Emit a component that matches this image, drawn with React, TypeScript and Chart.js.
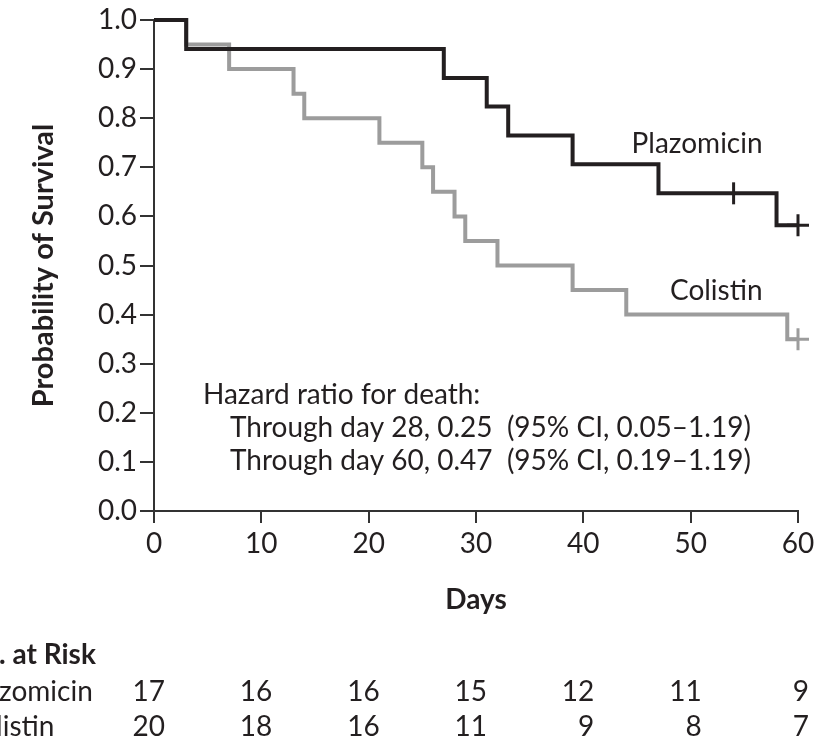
import React, { useEffect, useRef } from 'react';
import { Chart, registerables } from 'chart.js';

Chart.register(...registerables);

// ---- data ----
const plazomicinDays = [0, 3, 27, 31, 33, 39, 47, 58, 60];
const plazomicinSurvival = [1.0, 0.941, 0.882, 0.824, 0.765, 0.706, 0.647, 0.582, 0.582];
const colistinDays = [0, 3, 7, 13, 14, 21, 25, 26, 28, 29, 32, 39, 44, 59, 60];
const colistinSurvival = [1.0, 0.95, 0.9, 0.85, 0.8, 0.75, 0.7, 0.65, 0.6, 0.55, 0.5, 0.45, 0.4, 0.35, 0.35];
const plazomicinCensorDays = [54, 60];
const plazomicinCensorSurvival = [0.647, 0.582];
const colistinCensorDays = [60];
const colistinCensorSurvival = [0.35];
const riskDays = [0, 10, 20, 30, 40, 50, 60];
const plazomicinAtRisk = [17, 16, 16, 15, 12, 11, 9];
const colistinAtRisk = [20, 18, 16, 11, 9, 8, 7];
const groupNames = ['Plazomicin', 'Colistin'];
const hazardLines = [
  'Hazard ratio for death:',
  'Through day 28, 0.25  (95% CI, 0.05\u20131.19)',
  'Through day 60, 0.47  (95% CI, 0.19\u20131.19)',
];
const riskTitle = 'No. at Risk';
const xTitle = 'Days';
const yTitle = 'Probability of Survival';

const INK = '#231f20';
const GREY = '#9c9c9c';
const AXIS = '#333333';
const FONT = 'Lato';
const FS = 28;

const toPoints = (xs: number[], ys: number[]) => xs.map((x, i) => ({ x, y: ys[i] }));

const textPlugin = {
  id: 'kmText',
  afterDraw(chart: any) {
    const { ctx } = chart;
    const x = chart.scales.x;
    const y = chart.scales.y;
    ctx.save();
    ctx.fillStyle = INK;
    ctx.font = `${FS}px ${FONT}`;
    ctx.textAlign = 'right';
    ctx.textBaseline = 'alphabetic';
    ctx.fillText(groupNames[0], x.getPixelForValue(56.7), y.getPixelForValue(0.729));
    ctx.fillText(groupNames[1], x.getPixelForValue(56.7), y.getPixelForValue(0.43));

    ctx.textAlign = 'left';
    ctx.textBaseline = 'middle';
    ctx.fillText(hazardLines[0], x.getPixelForValue(4.56), y.getPixelForValue(0.236));
    ctx.fillText(hazardLines[1], x.getPixelForValue(7.08), y.getPixelForValue(0.169));
    ctx.fillText(hazardLines[2], x.getPixelForValue(7.08), y.getPixelForValue(0.102));

    // number at risk table
    ctx.font = `bold ${FS}px ${FONT}`;
    const labelLeft = -ctx.measureText('No').width - 1;
    ctx.fillText(riskTitle, labelLeft, 655);
    ctx.font = `${FS}px ${FONT}`;
    ctx.fillText(groupNames[0], labelLeft, 692);
    ctx.fillText(groupNames[1], labelLeft, 727);
    ctx.textAlign = 'right';
    riskDays.forEach((d, i) => {
      const px = x.getPixelForValue(d) + 11;
      ctx.fillText(String(plazomicinAtRisk[i]), px, 692);
      ctx.fillText(String(colistinAtRisk[i]), px, 727);
    });
    ctx.restore();
  },
};

export default function App() {
  const ref = useRef<HTMLCanvasElement | null>(null);
  useEffect(() => {
    if (!ref.current) return;
    Chart.defaults.font.family = FONT;
    const chart = new Chart(ref.current, {
      type: 'line',
      data: {
        datasets: [
          {
            label: groupNames[0],
            data: toPoints(plazomicinDays, plazomicinSurvival),
            borderColor: INK,
            borderWidth: 4,
            stepped: 'before',
            pointRadius: 0,
            fill: false,
            clip: false,
          },
          {
            label: groupNames[0] + ' censored',
            data: toPoints(plazomicinCensorDays, plazomicinCensorSurvival),
            showLine: false,
            pointStyle: ['line', 'cross'],
            pointRotation: [90, 0],
            pointRadius: 11,
            pointBorderWidth: 3,
            pointBorderColor: INK,
            borderColor: INK,
            clip: false,
          },
          {
            label: groupNames[1],
            data: toPoints(colistinDays, colistinSurvival),
            borderColor: GREY,
            borderWidth: 4,
            stepped: 'before',
            pointRadius: 0,
            fill: false,
            clip: false,
          },
          {
            label: groupNames[1] + ' censored',
            data: toPoints(colistinCensorDays, colistinCensorSurvival),
            showLine: false,
            pointStyle: 'cross',
            pointRadius: 11,
            pointBorderWidth: 3,
            pointBorderColor: GREY,
            borderColor: GREY,
            clip: false,
          },
        ],
      },
      options: {
        responsive: false,
        animation: false,
        devicePixelRatio: 1,
        layout: { padding: { left: 0, top: 20, right: 36, bottom: 120 } },
        plugins: { legend: { display: false }, tooltip: { enabled: false } },
        scales: {
          x: {
            type: 'linear',
            min: 0,
            max: 60,
            afterFit: (s: any) => { s.height = 109; },
            border: { display: true, color: AXIS, width: 2 },
            grid: { drawOnChartArea: false, drawTicks: true, tickLength: 12, color: AXIS, lineWidth: 2 },
            ticks: { stepSize: 10, color: INK, font: { size: FS, family: FONT }, padding: 4 },
            title: { display: true, text: xTitle, color: INK, font: { size: FS, weight: 'bold', family: FONT }, padding: { top: 0, bottom: 3 } },
          },
          y: {
            min: 0,
            max: 1,
            afterFit: (s: any) => { s.width = 154; },
            border: { display: true, color: AXIS, width: 2 },
            grid: { drawOnChartArea: false, drawTicks: true, tickLength: 14, color: AXIS, lineWidth: 2 },
            ticks: { stepSize: 0.1, color: INK, font: { size: FS, family: FONT }, padding: 3, callback: (v: any) => Number(v).toFixed(1) },
            title: { display: true, text: yTitle, color: INK, font: { size: 29, weight: 'bold', family: FONT }, padding: { top: 26, bottom: 0 } },
          },
        },
      },
      plugins: [textPlugin],
    } as any);
    return () => chart.destroy();
  }, []);
  return (
    <div style={{ position: 'fixed', left: 0, top: 0, width: 834, height: 740, background: '#fff' }}>
      <canvas ref={ref} width={834} height={740} />
    </div>
  );
}
